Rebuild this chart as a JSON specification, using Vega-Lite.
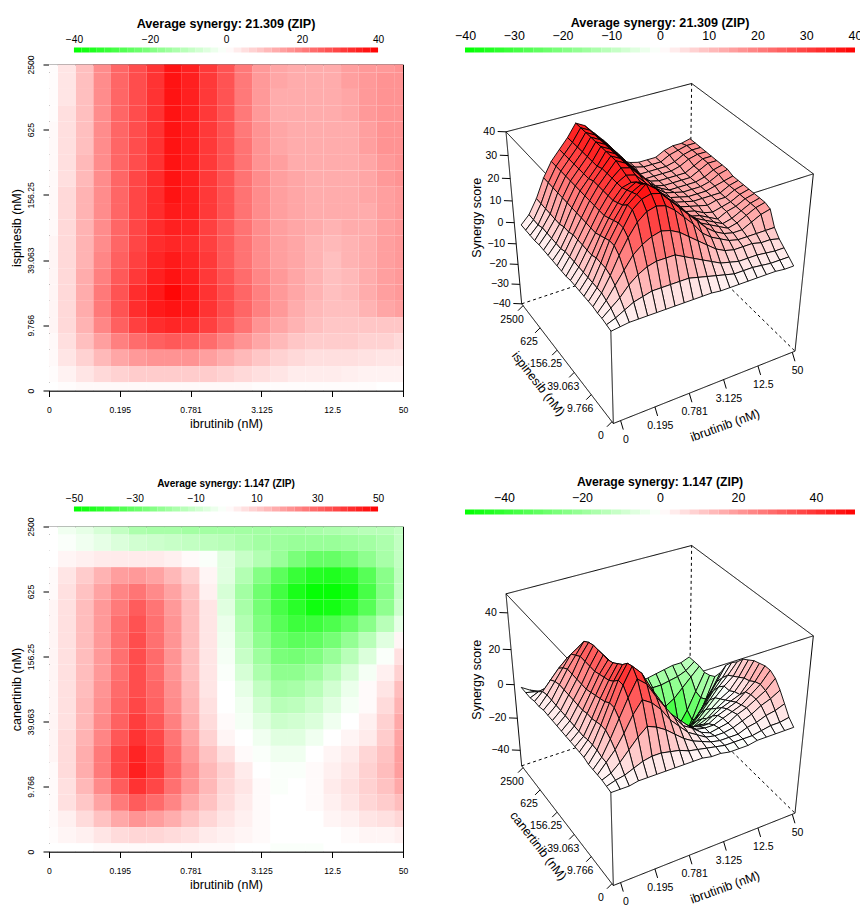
{"$schema":"https://vega.github.io/schema/vega-lite/v6.json","padding":{"left":9,"top":16.5,"right":0,"bottom":0},"background":"white","spacing":45,"config":{"font":"Liberation Sans","text":{"font":"Liberation Sans"},"axis":{"labelFont":"Liberation Sans","titleFont":"Liberation Sans","labelColor":"#000","titleColor":"#000","tickColor":"#000","domainColor":"#000","grid":false},"title":{"font":"Liberation Sans","fontWeight":"bold","color":"#000"}},
"hconcat":[
{"spacing":48,"vconcat":[
{"bounds":"flush","spacing":12,"vconcat":[
{"width":354,"height":5,"view":{"stroke":null},"title":{"text":"Average synergy: 21.309 (ZIP)","fontSize":12.6,"offset":3.5,"anchor":"middle"},"data":{"name":"bar"},"transform":[{"calculate":"datum.a*40","as":"x0"},{"calculate":"(datum.a+0.05)*40","as":"x1"},{"calculate":"datum.a+0.025","as":"c"}],"mark":"rect","encoding":{"x":{"field":"x0","type":"quantitative","scale":{"domain":[-46.56,46.56],"nice":false,"zero":false},"axis":{"orient":"top","values":[-40,-20,0,20,40],"title":null,"ticks":false,"domain":false,"labelFontSize":10.2,"labelPadding":3.5,"labelFlush":false}},"x2":{"field":"x1"},"fill":{"field":"c","type":"quantitative","scale":{"domain":[-1,0,1],"range":["#00ff00","#ffffff","#ff0000"],"interpolate":"rgb"},"legend":null}}},
{"width":354,"height":326,"view":{"stroke":"#000","strokeWidth":1},"data":{"name":"a"},"transform":[{"calculate":"max(datum.i-0.5,0)","as":"x0"},{"calculate":"min(datum.i+0.5,20)","as":"x1"},{"calculate":"max(datum.j-0.5,0)","as":"y0"},{"calculate":"min(datum.j+0.5,20)","as":"y1"},{"calculate":"datum.z/40","as":"c"}],"mark":"rect","encoding":{"x":{"field":"x0","type":"quantitative","scale":{"domain":[0,20],"nice":false},"axis":{"values":[0,4,8,12,16,20],"labelExpr":"['0','0.195','0.781','3.125','12.5','50'][datum.value/4]","title":"ibrutinib (nM)","titleFontSize":12.5,"titleFontWeight":"normal","labelFontSize":8.6,"tickSize":6,"labelPadding":9,"titlePadding":3,"labelFlush":false,"labelOverlap":false}},"x2":{"field":"x1"},"y":{"field":"y0","type":"quantitative","scale":{"domain":[0,20],"nice":false},"axis":{"values":[0,4,8,12,16,20],"labelExpr":"['0','9.766','39.063','156.25','625','2500'][datum.value/4]","title":"ispinesib (nM)","titleFontSize":12.5,"titleFontWeight":"normal","labelFontSize":8.6,"tickSize":6,"labelAngle":-90,"labelAlign":"center","labelBaseline":"bottom","labelPadding":7.5,"titlePadding":3.5,"labelFlush":false,"labelOverlap":false}},"y2":{"field":"y1"},"fill":{"field":"c","type":"quantitative","scale":{"domain":[-1,0,1],"range":["#00ff00","#ffffff","#ff0000"],"interpolate":"rgb"},"legend":null}}}
]},
{"bounds":"flush","spacing":15,"vconcat":[
{"width":354,"height":5,"view":{"stroke":null},"title":{"text":"Average synergy: 1.147 (ZIP)","fontSize":10.1,"offset":3.5,"anchor":"middle"},"data":{"name":"bar"},"transform":[{"calculate":"datum.a*50","as":"x0"},{"calculate":"(datum.a+0.05)*50","as":"x1"},{"calculate":"datum.a+0.025","as":"c"}],"mark":"rect","encoding":{"x":{"field":"x0","type":"quantitative","scale":{"domain":[-58.2,58.2],"nice":false,"zero":false},"axis":{"orient":"top","values":[-50,-30,-10,10,30,50],"title":null,"ticks":false,"domain":false,"labelFontSize":10.2,"labelPadding":3.5,"labelFlush":false}},"x2":{"field":"x1"},"fill":{"field":"c","type":"quantitative","scale":{"domain":[-1,0,1],"range":["#00ff00","#ffffff","#ff0000"],"interpolate":"rgb"},"legend":null}}},
{"width":354,"height":325,"view":{"stroke":"#000","strokeWidth":1},"data":{"name":"b"},"transform":[{"calculate":"max(datum.i-0.5,0)","as":"x0"},{"calculate":"min(datum.i+0.5,20)","as":"x1"},{"calculate":"max(datum.j-0.5,0)","as":"y0"},{"calculate":"min(datum.j+0.5,20)","as":"y1"},{"calculate":"datum.z/50","as":"c"}],"mark":"rect","encoding":{"x":{"field":"x0","type":"quantitative","scale":{"domain":[0,20],"nice":false},"axis":{"values":[0,4,8,12,16,20],"labelExpr":"['0','0.195','0.781','3.125','12.5','50'][datum.value/4]","title":"ibrutinib (nM)","titleFontSize":12.5,"titleFontWeight":"normal","labelFontSize":8.6,"tickSize":6,"labelPadding":9,"titlePadding":3,"labelFlush":false,"labelOverlap":false}},"x2":{"field":"x1"},"y":{"field":"y0","type":"quantitative","scale":{"domain":[0,20],"nice":false},"axis":{"values":[0,4,8,12,16,20],"labelExpr":"['0','9.766','39.063','156.25','625','2500'][datum.value/4]","title":"canertinib (nM)","titleFontSize":12.5,"titleFontWeight":"normal","labelFontSize":8.6,"tickSize":6,"labelAngle":-90,"labelAlign":"center","labelBaseline":"bottom","labelPadding":7.5,"titlePadding":3.5,"labelFlush":false,"labelOverlap":false}},"y2":{"field":"y1"},"fill":{"field":"c","type":"quantitative","scale":{"domain":[-1,0,1],"range":["#00ff00","#ffffff","#ff0000"],"interpolate":"rgb"},"legend":null}}}
]}
]},
{"spacing":26,"vconcat":[
{"bounds":"flush","spacing":17,"vconcat":[
{"width":400,"height":5,"view":{"stroke":null},"title":{"text":"Average synergy: 21.309 (ZIP)","fontSize":12.6,"offset":0,"anchor":"middle"},"data":{"name":"bar"},"transform":[{"calculate":"datum.a*40","as":"x0"},{"calculate":"(datum.a+0.05)*40","as":"x1"},{"calculate":"datum.a+0.025","as":"c"}],"mark":"rect","encoding":{"x":{"field":"x0","type":"quantitative","scale":{"domain":[-41.03,41.03],"nice":false,"zero":false},"axis":{"orient":"top","values":[-40,-30,-20,-10,0,10,20,30,40],"title":null,"ticks":false,"domain":false,"labelFontSize":12.4,"labelPadding":5,"labelFlush":false,"labelOverlap":false}},"x2":{"field":"x1"},"fill":{"field":"c","type":"quantitative","scale":{"domain":[-1,0,1],"range":["#00ff00","#ffffff","#ff0000"],"interpolate":"rgb"},"legend":null}}},
{"width":400,"height":380,"view":{"stroke":null},
"encoding":{"x":{"field":"px","type":"quantitative","scale":{"domain":[0,1200],"nice":false,"zero":false},"axis":null},"y":{"field":"py","type":"quantitative","scale":{"domain":[1140,0],"nice":false,"zero":false},"axis":null}},
"layer":[
{"data":{"name":"box"},"transform":[{"calculate":"datum.t","as":"w"},{"calculate":"(1-datum.w)*((1-datum.u)*(1-datum.v)*460+datum.u*(1-datum.v)*1005+(1-datum.u)*datum.v*185+datum.u*datum.v*688)+datum.w*((1-datum.u)*(1-datum.v)*445+datum.u*(1-datum.v)*1060+(1-datum.u)*datum.v*138+datum.u*datum.v*695)","as":"px"},{"calculate":"(1-datum.w)*((1-datum.u)*(1-datum.v)*1062+datum.u*(1-datum.v)*845+(1-datum.u)*datum.v*703+datum.u*datum.v*535)+datum.w*((1-datum.u)*(1-datum.v)*510+datum.u*(1-datum.v)*313+(1-datum.u)*datum.v*187+datum.u*datum.v*42)","as":"py"}],"mark":{"type":"line","color":"#000","strokeWidth":1},"encoding":{"detail":{"field":"e"},"order":{"field":"k","type":"quantitative"},"strokeDash":{"field":"s","type":"nominal","scale":{"domain":["a","d"],"range":[[1,0],[3,3]]},"legend":null}}},
{"data":{"name":"a"},"transform":[{"calculate":"[0,-1,-1,0]","as":"di"},{"calculate":"[0,0,-1,-1]","as":"dj"},{"calculate":"[0,1,2,3]","as":"k"},{"flatten":["di","dj","k"]},{"calculate":"datum.i+datum.di","as":"ci"},{"calculate":"datum.j+datum.dj","as":"cj"},{"filter":"datum.ci>=0&&datum.cj>=0&&datum.ci<20&&datum.cj<20"},{"calculate":"datum.ci*100+datum.cj","as":"cell"},{"joinaggregate":[{"op":"mean","field":"z","as":"zc"}],"groupby":["cell"]},{"calculate":"datum.zc/40","as":"c"},{"calculate":"0.03+0.955*datum.i/20","as":"u"},{"calculate":"0.06+0.925*datum.j/20","as":"v"},{"calculate":"(datum.z-1.5*(1-datum.z/40)+40)/80","as":"t"},{"calculate":"datum.t*0.893/(1-datum.t+datum.t*0.893)","as":"w"},{"calculate":"(1-datum.w)*((1-datum.u)*(1-datum.v)*460+datum.u*(1-datum.v)*1005+(1-datum.u)*datum.v*185+datum.u*datum.v*688)+datum.w*((1-datum.u)*(1-datum.v)*445+datum.u*(1-datum.v)*1060+(1-datum.u)*datum.v*138+datum.u*datum.v*695)","as":"px"},{"calculate":"(1-datum.w)*((1-datum.u)*(1-datum.v)*1062+datum.u*(1-datum.v)*845+(1-datum.u)*datum.v*703+datum.u*datum.v*535)+datum.w*((1-datum.u)*(1-datum.v)*510+datum.u*(1-datum.v)*313+(1-datum.u)*datum.v*187+datum.u*datum.v*42)","as":"py"}],"mark":{"type":"line","interpolate":"linear-closed","stroke":"#000","strokeWidth":0.9},"encoding":{"detail":{"field":"cell"},"order":{"field":"k","type":"quantitative"},"fill":{"field":"c","type":"quantitative","scale":{"domain":[-1,0,1],"range":["#00ff00","#ffffff","#ff0000"],"interpolate":"rgb"},"legend":null}}},
{"data":{"name":"ticks1"},"transform":[{"calculate":"datum.axis=='x'||datum.axis=='tx'?0.04+0.945*datum.value/5:0","as":"u"},{"calculate":"datum.axis=='y'&&datum.value==0?0.015:datum.axis=='y'||datum.axis=='ty'?0.055+0.93*datum.value/5:(datum.axis=='z'||datum.axis=='tz'?1:0)","as":"v"},{"calculate":"datum.axis=='z'||datum.axis=='tz'?(datum.value+40)/80:0","as":"t"},{"calculate":"datum.t*0.893/(1-datum.t+datum.t*0.893)","as":"w"},{"calculate":"(1-datum.w)*((1-datum.u)*(1-datum.v)*460+datum.u*(1-datum.v)*1005+(1-datum.u)*datum.v*185+datum.u*datum.v*688)+datum.w*((1-datum.u)*(1-datum.v)*445+datum.u*(1-datum.v)*1060+(1-datum.u)*datum.v*138+datum.u*datum.v*695)","as":"px"},{"calculate":"(1-datum.w)*((1-datum.u)*(1-datum.v)*1062+datum.u*(1-datum.v)*845+(1-datum.u)*datum.v*703+datum.u*datum.v*535)+datum.w*((1-datum.u)*(1-datum.v)*510+datum.u*(1-datum.v)*313+(1-datum.u)*datum.v*187+datum.u*datum.v*42)","as":"py"},{"calculate":"datum.px+{x:8,y:-15,z:-25}[datum.axis]","as":"px2"},{"calculate":"datum.py+{x:27,y:15,z:-1}[datum.axis]","as":"py2"},{"calculate":"datum.px+{x:16,y:-33,z:-33,tx:56,ty:-82,tz:-111}[datum.axis]","as":"lx"},{"calculate":"datum.py+{x:57,y:43,z:0,tx:117,ty:68,tz:-15}[datum.axis]","as":"ly"}],
"layer":[
{"transform":[{"filter":"length(datum.axis)==1"}],"mark":{"type":"rule","color":"#000","strokeWidth":1},"encoding":{"x2":{"field":"px2"},"y2":{"field":"py2"}}},
{"transform":[{"filter":"datum.axis=='x'||datum.axis=='y'"}],"mark":{"type":"text","fontSize":10.5,"align":"center","baseline":"middle","color":"#000"},"encoding":{"x":{"field":"lx","type":"quantitative","axis":null},"y":{"field":"ly","type":"quantitative","axis":null},"text":{"field":"label"}}},
{"transform":[{"filter":"datum.axis=='z'"}],"mark":{"type":"text","fontSize":10.5,"align":"right","baseline":"middle","color":"#000"},"encoding":{"x":{"field":"lx","type":"quantitative","axis":null},"y":{"field":"ly","type":"quantitative","axis":null},"text":{"field":"label"}}},
{"transform":[{"filter":"datum.axis=='tx'"}],"mark":{"type":"text","fontSize":12.5,"align":"center","baseline":"middle","angle":-20,"color":"#000"},"encoding":{"x":{"field":"lx","type":"quantitative","axis":null},"y":{"field":"ly","type":"quantitative","axis":null},"text":{"field":"label"}}},
{"transform":[{"filter":"datum.axis=='ty'"}],"mark":{"type":"text","fontSize":12.5,"align":"center","baseline":"middle","angle":52,"color":"#000"},"encoding":{"x":{"field":"lx","type":"quantitative","axis":null},"y":{"field":"ly","type":"quantitative","axis":null},"text":{"field":"label"}}},
{"transform":[{"filter":"datum.axis=='tz'"}],"mark":{"type":"text","fontSize":12.5,"align":"center","baseline":"middle","angle":-90,"color":"#000"},"encoding":{"x":{"field":"lx","type":"quantitative","axis":null},"y":{"field":"ly","type":"quantitative","axis":null},"text":{"field":"label"}}}
]}
]}
]},
{"bounds":"flush","spacing":17,"vconcat":[
{"width":400,"height":5,"view":{"stroke":null},"title":{"text":"Average synergy: 1.147 (ZIP)","fontSize":12.2,"offset":3,"anchor":"middle"},"data":{"name":"bar"},"transform":[{"calculate":"datum.a*50","as":"x0"},{"calculate":"(datum.a+0.05)*50","as":"x1"},{"calculate":"datum.a+0.025","as":"c"}],"mark":"rect","encoding":{"x":{"field":"x0","type":"quantitative","scale":{"domain":[-51.28,51.28],"nice":false,"zero":false},"axis":{"orient":"top","values":[-40,-20,0,20,40],"title":null,"ticks":false,"domain":false,"labelFontSize":12.4,"labelPadding":5,"labelFlush":false,"labelOverlap":false}},"x2":{"field":"x1"},"fill":{"field":"c","type":"quantitative","scale":{"domain":[-1,0,1],"range":["#00ff00","#ffffff","#ff0000"],"interpolate":"rgb"},"legend":null}}},
{"width":400,"height":374,"view":{"stroke":null},
"encoding":{"x":{"field":"px","type":"quantitative","scale":{"domain":[0,1200],"nice":false,"zero":false},"axis":null},"y":{"field":"py","type":"quantitative","scale":{"domain":[1122,0],"nice":false,"zero":false},"axis":null}},
"layer":[
{"data":{"name":"box"},"transform":[{"calculate":"datum.t","as":"w"},{"calculate":"(1-datum.w)*((1-datum.u)*(1-datum.v)*460+datum.u*(1-datum.v)*1005+(1-datum.u)*datum.v*185+datum.u*datum.v*688)+datum.w*((1-datum.u)*(1-datum.v)*445+datum.u*(1-datum.v)*1060+(1-datum.u)*datum.v*138+datum.u*datum.v*695)","as":"px"},{"calculate":"(1-datum.w)*((1-datum.u)*(1-datum.v)*1062+datum.u*(1-datum.v)*845+(1-datum.u)*datum.v*703+datum.u*datum.v*535)+datum.w*((1-datum.u)*(1-datum.v)*510+datum.u*(1-datum.v)*313+(1-datum.u)*datum.v*187+datum.u*datum.v*42)","as":"py"}],"mark":{"type":"line","color":"#000","strokeWidth":1},"encoding":{"detail":{"field":"e"},"order":{"field":"k","type":"quantitative"},"strokeDash":{"field":"s","type":"nominal","scale":{"domain":["a","d"],"range":[[1,0],[3,3]]},"legend":null}}},
{"data":{"name":"b"},"transform":[{"calculate":"[0,-1,-1,0]","as":"di"},{"calculate":"[0,0,-1,-1]","as":"dj"},{"calculate":"[0,1,2,3]","as":"k"},{"flatten":["di","dj","k"]},{"calculate":"datum.i+datum.di","as":"ci"},{"calculate":"datum.j+datum.dj","as":"cj"},{"filter":"datum.ci>=0&&datum.cj>=0&&datum.ci<20&&datum.cj<20"},{"calculate":"datum.ci*100+datum.cj","as":"cell"},{"joinaggregate":[{"op":"mean","field":"z","as":"zc"}],"groupby":["cell"]},{"calculate":"datum.zc/50","as":"c"},{"calculate":"0.03+0.955*datum.i/20","as":"u"},{"calculate":"0.06+0.925*datum.j/20","as":"v"},{"calculate":"(datum.z-1.5*(1-datum.z/50)+50)/100","as":"t"},{"calculate":"datum.t*0.893/(1-datum.t+datum.t*0.893)","as":"w"},{"calculate":"(1-datum.w)*((1-datum.u)*(1-datum.v)*460+datum.u*(1-datum.v)*1005+(1-datum.u)*datum.v*185+datum.u*datum.v*688)+datum.w*((1-datum.u)*(1-datum.v)*445+datum.u*(1-datum.v)*1060+(1-datum.u)*datum.v*138+datum.u*datum.v*695)","as":"px"},{"calculate":"(1-datum.w)*((1-datum.u)*(1-datum.v)*1062+datum.u*(1-datum.v)*845+(1-datum.u)*datum.v*703+datum.u*datum.v*535)+datum.w*((1-datum.u)*(1-datum.v)*510+datum.u*(1-datum.v)*313+(1-datum.u)*datum.v*187+datum.u*datum.v*42)","as":"py"}],"mark":{"type":"line","interpolate":"linear-closed","stroke":"#000","strokeWidth":0.9},"encoding":{"detail":{"field":"cell"},"order":{"field":"k","type":"quantitative"},"fill":{"field":"c","type":"quantitative","scale":{"domain":[-1,0,1],"range":["#00ff00","#ffffff","#ff0000"],"interpolate":"rgb"},"legend":null}}},
{"data":{"name":"ticks2"},"transform":[{"calculate":"datum.axis=='x'||datum.axis=='tx'?0.04+0.945*datum.value/5:0","as":"u"},{"calculate":"datum.axis=='y'&&datum.value==0?0.015:datum.axis=='y'||datum.axis=='ty'?0.055+0.93*datum.value/5:(datum.axis=='z'||datum.axis=='tz'?1:0)","as":"v"},{"calculate":"datum.axis=='z'||datum.axis=='tz'?(datum.value+50)/100:0","as":"t"},{"calculate":"datum.t*0.893/(1-datum.t+datum.t*0.893)","as":"w"},{"calculate":"(1-datum.w)*((1-datum.u)*(1-datum.v)*460+datum.u*(1-datum.v)*1005+(1-datum.u)*datum.v*185+datum.u*datum.v*688)+datum.w*((1-datum.u)*(1-datum.v)*445+datum.u*(1-datum.v)*1060+(1-datum.u)*datum.v*138+datum.u*datum.v*695)","as":"px"},{"calculate":"(1-datum.w)*((1-datum.u)*(1-datum.v)*1062+datum.u*(1-datum.v)*845+(1-datum.u)*datum.v*703+datum.u*datum.v*535)+datum.w*((1-datum.u)*(1-datum.v)*510+datum.u*(1-datum.v)*313+(1-datum.u)*datum.v*187+datum.u*datum.v*42)","as":"py"},{"calculate":"datum.px+{x:8,y:-15,z:-25}[datum.axis]","as":"px2"},{"calculate":"datum.py+{x:27,y:15,z:-1}[datum.axis]","as":"py2"},{"calculate":"datum.px+{x:16,y:-33,z:-33,tx:56,ty:-82,tz:-111}[datum.axis]","as":"lx"},{"calculate":"datum.py+{x:57,y:43,z:0,tx:117,ty:68,tz:-15}[datum.axis]","as":"ly"}],
"layer":[
{"transform":[{"filter":"length(datum.axis)==1"}],"mark":{"type":"rule","color":"#000","strokeWidth":1},"encoding":{"x2":{"field":"px2"},"y2":{"field":"py2"}}},
{"transform":[{"filter":"datum.axis=='x'||datum.axis=='y'"}],"mark":{"type":"text","fontSize":10.5,"align":"center","baseline":"middle","color":"#000"},"encoding":{"x":{"field":"lx","type":"quantitative","axis":null},"y":{"field":"ly","type":"quantitative","axis":null},"text":{"field":"label"}}},
{"transform":[{"filter":"datum.axis=='z'"}],"mark":{"type":"text","fontSize":10.5,"align":"right","baseline":"middle","color":"#000"},"encoding":{"x":{"field":"lx","type":"quantitative","axis":null},"y":{"field":"ly","type":"quantitative","axis":null},"text":{"field":"label"}}},
{"transform":[{"filter":"datum.axis=='tx'"}],"mark":{"type":"text","fontSize":12.5,"align":"center","baseline":"middle","angle":-20,"color":"#000"},"encoding":{"x":{"field":"lx","type":"quantitative","axis":null},"y":{"field":"ly","type":"quantitative","axis":null},"text":{"field":"label"}}},
{"transform":[{"filter":"datum.axis=='ty'"}],"mark":{"type":"text","fontSize":12.5,"align":"center","baseline":"middle","angle":52,"color":"#000"},"encoding":{"x":{"field":"lx","type":"quantitative","axis":null},"y":{"field":"ly","type":"quantitative","axis":null},"text":{"field":"label"}}},
{"transform":[{"filter":"datum.axis=='tz'"}],"mark":{"type":"text","fontSize":12.5,"align":"center","baseline":"middle","angle":-90,"color":"#000"},"encoding":{"x":{"field":"lx","type":"quantitative","axis":null},"y":{"field":"ly","type":"quantitative","axis":null},"text":{"field":"label"}}}
]}
]}
]}
]}
],
"datasets":{
"bar":[{"a":-1},{"a":-0.95},{"a":-0.9},{"a":-0.85},{"a":-0.8},{"a":-0.75},{"a":-0.7},{"a":-0.65},{"a":-0.6},{"a":-0.55},{"a":-0.5},{"a":-0.45},{"a":-0.4},{"a":-0.35},{"a":-0.3},{"a":-0.25},{"a":-0.2},{"a":-0.15},{"a":-0.1},{"a":-0.05},{"a":0},{"a":0.05},{"a":0.1},{"a":0.15},{"a":0.2},{"a":0.25},{"a":0.3},{"a":0.35},{"a":0.4},{"a":0.45},{"a":0.5},{"a":0.55},{"a":0.6},{"a":0.65},{"a":0.7},{"a":0.75},{"a":0.8},{"a":0.85},{"a":0.9},{"a":0.95}],
"box":[{"e":1,"s":"a","k":0,"u":0,"v":1,"t":1},{"e":1,"s":"a","k":1,"u":1,"v":1,"t":1},{"e":2,"s":"a","k":0,"u":1,"v":1,"t":1},{"e":2,"s":"a","k":1,"u":1,"v":0,"t":1},{"e":3,"s":"a","k":0,"u":1,"v":0,"t":1},{"e":3,"s":"a","k":1,"u":0,"v":0,"t":1},{"e":4,"s":"a","k":0,"u":0,"v":0,"t":1},{"e":4,"s":"a","k":1,"u":0,"v":1,"t":1},{"e":5,"s":"a","k":0,"u":0,"v":1,"t":0},{"e":5,"s":"a","k":1,"u":0,"v":1,"t":1},{"e":6,"s":"a","k":0,"u":1,"v":0,"t":0},{"e":6,"s":"a","k":1,"u":1,"v":0,"t":1},{"e":7,"s":"a","k":0,"u":0,"v":0,"t":0},{"e":7,"s":"a","k":1,"u":0,"v":0,"t":1},{"e":8,"s":"a","k":0,"u":0,"v":0,"t":0},{"e":8,"s":"a","k":1,"u":1,"v":0,"t":0},{"e":9,"s":"a","k":0,"u":0,"v":0,"t":0},{"e":9,"s":"a","k":1,"u":0,"v":1,"t":0},{"e":10,"s":"d","k":0,"u":0,"v":1,"t":0},{"e":10,"s":"d","k":1,"u":1,"v":1,"t":0},{"e":11,"s":"d","k":0,"u":1,"v":1,"t":0},{"e":11,"s":"d","k":1,"u":1,"v":0,"t":0},{"e":12,"s":"d","k":0,"u":1,"v":1,"t":0},{"e":12,"s":"d","k":1,"u":1,"v":1,"t":1}],
"ticks1":[{"axis":"x","value":0,"label":"0"},{"axis":"x","value":1,"label":"0.195"},{"axis":"x","value":2,"label":"0.781"},{"axis":"x","value":3,"label":"3.125"},{"axis":"x","value":4,"label":"12.5"},{"axis":"x","value":5,"label":"50"},{"axis":"y","value":0,"label":"0"},{"axis":"y","value":1,"label":"9.766"},{"axis":"y","value":2,"label":"39.063"},{"axis":"y","value":3,"label":"156.25"},{"axis":"y","value":4,"label":"625"},{"axis":"y","value":5,"label":"2500"},{"axis":"z","value":-40,"label":"−40"},{"axis":"z","value":-30,"label":"−30"},{"axis":"z","value":-20,"label":"−20"},{"axis":"z","value":-10,"label":"−10"},{"axis":"z","value":0,"label":"0"},{"axis":"z","value":10,"label":"10"},{"axis":"z","value":20,"label":"20"},{"axis":"z","value":30,"label":"30"},{"axis":"z","value":40,"label":"40"},{"axis":"tx","value":2.5,"label":"ibrutinib (nM)"},{"axis":"ty","value":2.5,"label":"ispinesib (nM)"},{"axis":"tz","value":0,"label":"Synergy score"}],
"ticks2":[{"axis":"x","value":0,"label":"0"},{"axis":"x","value":1,"label":"0.195"},{"axis":"x","value":2,"label":"0.781"},{"axis":"x","value":3,"label":"3.125"},{"axis":"x","value":4,"label":"12.5"},{"axis":"x","value":5,"label":"50"},{"axis":"y","value":0,"label":"0"},{"axis":"y","value":1,"label":"9.766"},{"axis":"y","value":2,"label":"39.063"},{"axis":"y","value":3,"label":"156.25"},{"axis":"y","value":4,"label":"625"},{"axis":"y","value":5,"label":"2500"},{"axis":"z","value":-40,"label":"−40"},{"axis":"z","value":-20,"label":"−20"},{"axis":"z","value":0,"label":"0"},{"axis":"z","value":20,"label":"20"},{"axis":"z","value":40,"label":"40"},{"axis":"tx","value":2.5,"label":"ibrutinib (nM)"},{"axis":"ty","value":2.5,"label":"canertinib (nM)"},{"axis":"tz","value":0,"label":"Synergy score"}],
"a":[
{"i":20,"j":20,"z":17},{"i":19,"j":20,"z":16},{"i":18,"j":20,"z":16},{"i":17,"j":20,"z":15},{"i":16,"j":20,"z":13},{"i":15,"j":20,"z":13},{"i":14,"j":20,"z":13},{"i":13,"j":20,"z":14},{"i":12,"j":20,"z":16},{"i":11,"j":20,"z":21},{"i":10,"j":20,"z":27},{"i":9,"j":20,"z":31},{"i":8,"j":20,"z":35},{"i":7,"j":20,"z":37},{"i":6,"j":20,"z":32},{"i":5,"j":20,"z":28},{"i":4,"j":20,"z":24},{"i":3,"j":20,"z":18},{"i":2,"j":20,"z":10},{"i":1,"j":20,"z":4},{"i":0,"j":20,"z":0.5},
{"i":20,"j":19,"z":17},{"i":19,"j":19,"z":17},{"i":18,"j":19,"z":16},{"i":17,"j":19,"z":15},{"i":16,"j":19,"z":13},{"i":15,"j":19,"z":13},{"i":14,"j":19,"z":13},{"i":13,"j":19,"z":14},{"i":12,"j":19,"z":16},{"i":11,"j":19,"z":21},{"i":10,"j":19,"z":27},{"i":9,"j":19,"z":31},{"i":8,"j":19,"z":35},{"i":7,"j":19,"z":37},{"i":6,"j":19,"z":32},{"i":5,"j":19,"z":28},{"i":4,"j":19,"z":24},{"i":3,"j":19,"z":18},{"i":2,"j":19,"z":10},{"i":1,"j":19,"z":4},{"i":0,"j":19,"z":0.5},
{"i":20,"j":18,"z":17},{"i":19,"j":18,"z":17},{"i":18,"j":18,"z":16},{"i":17,"j":18,"z":14},{"i":16,"j":18,"z":13},{"i":15,"j":18,"z":13},{"i":14,"j":18,"z":13},{"i":13,"j":18,"z":13},{"i":12,"j":18,"z":16},{"i":11,"j":18,"z":21},{"i":10,"j":18,"z":27},{"i":9,"j":18,"z":31},{"i":8,"j":18,"z":35},{"i":7,"j":18,"z":37},{"i":6,"j":18,"z":32},{"i":5,"j":18,"z":28},{"i":4,"j":18,"z":24},{"i":3,"j":18,"z":18},{"i":2,"j":18,"z":10},{"i":1,"j":18,"z":4},{"i":0,"j":18,"z":0.5},
{"i":20,"j":17,"z":17},{"i":19,"j":17,"z":17},{"i":18,"j":17,"z":16},{"i":17,"j":17,"z":14},{"i":16,"j":17,"z":13},{"i":15,"j":17,"z":13},{"i":14,"j":17,"z":13},{"i":13,"j":17,"z":13},{"i":12,"j":17,"z":16},{"i":11,"j":17,"z":21},{"i":10,"j":17,"z":27},{"i":9,"j":17,"z":31},{"i":8,"j":17,"z":35},{"i":7,"j":17,"z":37},{"i":6,"j":17,"z":32},{"i":5,"j":17,"z":28},{"i":4,"j":17,"z":24},{"i":3,"j":17,"z":18},{"i":2,"j":17,"z":10},{"i":1,"j":17,"z":5},{"i":0,"j":17,"z":0.5},
{"i":20,"j":16,"z":17},{"i":19,"j":16,"z":17},{"i":18,"j":16,"z":15},{"i":17,"j":16,"z":13},{"i":16,"j":16,"z":13},{"i":15,"j":16,"z":13},{"i":14,"j":16,"z":13},{"i":13,"j":16,"z":14},{"i":12,"j":16,"z":17},{"i":11,"j":16,"z":21},{"i":10,"j":16,"z":27},{"i":9,"j":16,"z":31},{"i":8,"j":16,"z":35},{"i":7,"j":16,"z":37},{"i":6,"j":16,"z":32},{"i":5,"j":16,"z":28},{"i":4,"j":16,"z":24},{"i":3,"j":16,"z":18},{"i":2,"j":16,"z":10},{"i":1,"j":16,"z":5},{"i":0,"j":16,"z":1},
{"i":20,"j":15,"z":17},{"i":19,"j":15,"z":17},{"i":18,"j":15,"z":15},{"i":17,"j":15,"z":13},{"i":16,"j":15,"z":13},{"i":15,"j":15,"z":13},{"i":14,"j":15,"z":13},{"i":13,"j":15,"z":14},{"i":12,"j":15,"z":17},{"i":11,"j":15,"z":22},{"i":10,"j":15,"z":27},{"i":9,"j":15,"z":31},{"i":8,"j":15,"z":35},{"i":7,"j":15,"z":37},{"i":6,"j":15,"z":32},{"i":5,"j":15,"z":28},{"i":4,"j":15,"z":24},{"i":3,"j":15,"z":18},{"i":2,"j":15,"z":10},{"i":1,"j":15,"z":5},{"i":0,"j":15,"z":1},
{"i":20,"j":14,"z":17},{"i":19,"j":14,"z":16},{"i":18,"j":14,"z":14},{"i":17,"j":14,"z":13},{"i":16,"j":14,"z":13},{"i":15,"j":14,"z":13},{"i":14,"j":14,"z":13},{"i":13,"j":14,"z":15},{"i":12,"j":14,"z":17},{"i":11,"j":14,"z":22},{"i":10,"j":14,"z":27},{"i":9,"j":14,"z":31},{"i":8,"j":14,"z":35},{"i":7,"j":14,"z":37},{"i":6,"j":14,"z":32},{"i":5,"j":14,"z":28},{"i":4,"j":14,"z":24},{"i":3,"j":14,"z":18},{"i":2,"j":14,"z":11},{"i":1,"j":14,"z":5},{"i":0,"j":14,"z":1},
{"i":20,"j":13,"z":17},{"i":19,"j":13,"z":16},{"i":18,"j":13,"z":14},{"i":17,"j":13,"z":13},{"i":16,"j":13,"z":13},{"i":15,"j":13,"z":13},{"i":14,"j":13,"z":14},{"i":13,"j":13,"z":15},{"i":12,"j":13,"z":18},{"i":11,"j":13,"z":22},{"i":10,"j":13,"z":27},{"i":9,"j":13,"z":31},{"i":8,"j":13,"z":35},{"i":7,"j":13,"z":37},{"i":6,"j":13,"z":33},{"i":5,"j":13,"z":29},{"i":4,"j":13,"z":24},{"i":3,"j":13,"z":18},{"i":2,"j":13,"z":11},{"i":1,"j":13,"z":5},{"i":0,"j":13,"z":1},
{"i":20,"j":12,"z":16},{"i":19,"j":12,"z":15},{"i":18,"j":12,"z":14},{"i":17,"j":12,"z":13},{"i":16,"j":12,"z":13},{"i":15,"j":12,"z":13},{"i":14,"j":12,"z":14},{"i":13,"j":12,"z":15},{"i":12,"j":12,"z":18},{"i":11,"j":12,"z":22},{"i":10,"j":12,"z":27},{"i":9,"j":12,"z":31},{"i":8,"j":12,"z":35},{"i":7,"j":12,"z":37},{"i":6,"j":12,"z":33},{"i":5,"j":12,"z":29},{"i":4,"j":12,"z":24},{"i":3,"j":12,"z":18},{"i":2,"j":12,"z":12},{"i":1,"j":12,"z":6},{"i":0,"j":12,"z":1},
{"i":20,"j":11,"z":16},{"i":19,"j":11,"z":15},{"i":18,"j":11,"z":13},{"i":17,"j":11,"z":13},{"i":16,"j":11,"z":13},{"i":15,"j":11,"z":13},{"i":14,"j":11,"z":14},{"i":13,"j":11,"z":15},{"i":12,"j":11,"z":18},{"i":11,"j":11,"z":22},{"i":10,"j":11,"z":27},{"i":9,"j":11,"z":31},{"i":8,"j":11,"z":35},{"i":7,"j":11,"z":36},{"i":6,"j":11,"z":33},{"i":5,"j":11,"z":29},{"i":4,"j":11,"z":24},{"i":3,"j":11,"z":18},{"i":2,"j":11,"z":12},{"i":1,"j":11,"z":6},{"i":0,"j":11,"z":1},
{"i":20,"j":10,"z":16},{"i":19,"j":10,"z":15},{"i":18,"j":10,"z":13},{"i":17,"j":10,"z":13},{"i":16,"j":10,"z":12},{"i":15,"j":10,"z":13},{"i":14,"j":10,"z":14},{"i":13,"j":10,"z":15},{"i":12,"j":10,"z":18},{"i":11,"j":10,"z":22},{"i":10,"j":10,"z":26},{"i":9,"j":10,"z":30},{"i":8,"j":10,"z":34},{"i":7,"j":10,"z":35},{"i":6,"j":10,"z":33},{"i":5,"j":10,"z":29},{"i":4,"j":10,"z":24},{"i":3,"j":10,"z":18},{"i":2,"j":10,"z":12},{"i":1,"j":10,"z":6},{"i":0,"j":10,"z":1},
{"i":20,"j":9,"z":16},{"i":19,"j":9,"z":15},{"i":18,"j":9,"z":13},{"i":17,"j":9,"z":12},{"i":16,"j":9,"z":11},{"i":15,"j":9,"z":12},{"i":14,"j":9,"z":14},{"i":13,"j":9,"z":15},{"i":12,"j":9,"z":18},{"i":11,"j":9,"z":22},{"i":10,"j":9,"z":26},{"i":9,"j":9,"z":30},{"i":8,"j":9,"z":33},{"i":7,"j":9,"z":34},{"i":6,"j":9,"z":33},{"i":5,"j":9,"z":29},{"i":4,"j":9,"z":24},{"i":3,"j":9,"z":18},{"i":2,"j":9,"z":12},{"i":1,"j":9,"z":6},{"i":0,"j":9,"z":1.5},
{"i":20,"j":8,"z":16},{"i":19,"j":8,"z":15},{"i":18,"j":8,"z":13},{"i":17,"j":8,"z":12},{"i":16,"j":8,"z":10},{"i":15,"j":8,"z":12},{"i":14,"j":8,"z":14},{"i":13,"j":8,"z":15},{"i":12,"j":8,"z":18},{"i":11,"j":8,"z":22},{"i":10,"j":8,"z":26},{"i":9,"j":8,"z":31},{"i":8,"j":8,"z":34},{"i":7,"j":8,"z":36},{"i":6,"j":8,"z":34},{"i":5,"j":8,"z":30},{"i":4,"j":8,"z":25},{"i":3,"j":8,"z":19},{"i":2,"j":8,"z":12},{"i":1,"j":8,"z":6},{"i":0,"j":8,"z":1.5},
{"i":20,"j":7,"z":16},{"i":19,"j":7,"z":15},{"i":18,"j":7,"z":13},{"i":17,"j":7,"z":11},{"i":16,"j":7,"z":10},{"i":15,"j":7,"z":12},{"i":14,"j":7,"z":14},{"i":13,"j":7,"z":16},{"i":12,"j":7,"z":19},{"i":11,"j":7,"z":23},{"i":10,"j":7,"z":27},{"i":9,"j":7,"z":31},{"i":8,"j":7,"z":35},{"i":7,"j":7,"z":37},{"i":6,"j":7,"z":35},{"i":5,"j":7,"z":31},{"i":4,"j":7,"z":26},{"i":3,"j":7,"z":20},{"i":2,"j":7,"z":13},{"i":1,"j":7,"z":6},{"i":0,"j":7,"z":1.5},
{"i":20,"j":6,"z":16},{"i":19,"j":6,"z":15},{"i":18,"j":6,"z":13},{"i":17,"j":6,"z":11},{"i":16,"j":6,"z":10},{"i":15,"j":6,"z":12},{"i":14,"j":6,"z":14},{"i":13,"j":6,"z":16},{"i":12,"j":6,"z":20},{"i":11,"j":6,"z":24},{"i":10,"j":6,"z":28},{"i":9,"j":6,"z":32},{"i":8,"j":6,"z":36},{"i":7,"j":6,"z":39},{"i":6,"j":6,"z":36},{"i":5,"j":6,"z":33},{"i":4,"j":6,"z":27},{"i":3,"j":6,"z":21},{"i":2,"j":6,"z":13},{"i":1,"j":6,"z":6},{"i":0,"j":6,"z":1.5},
{"i":20,"j":5,"z":15},{"i":19,"j":5,"z":14},{"i":18,"j":5,"z":12},{"i":17,"j":5,"z":10},{"i":16,"j":5,"z":10},{"i":15,"j":5,"z":11},{"i":14,"j":5,"z":13},{"i":13,"j":5,"z":16},{"i":12,"j":5,"z":20},{"i":11,"j":5,"z":24},{"i":10,"j":5,"z":28},{"i":9,"j":5,"z":32},{"i":8,"j":5,"z":36},{"i":7,"j":5,"z":37},{"i":6,"j":5,"z":36},{"i":5,"j":5,"z":33},{"i":4,"j":5,"z":27},{"i":3,"j":5,"z":21},{"i":2,"j":5,"z":13},{"i":1,"j":5,"z":6},{"i":0,"j":5,"z":1.5},
{"i":20,"j":4,"z":9},{"i":19,"j":4,"z":9},{"i":18,"j":4,"z":9},{"i":17,"j":4,"z":9},{"i":16,"j":4,"z":9},{"i":15,"j":4,"z":10},{"i":14,"j":4,"z":12},{"i":13,"j":4,"z":14},{"i":12,"j":4,"z":17},{"i":11,"j":4,"z":22},{"i":10,"j":4,"z":26},{"i":9,"j":4,"z":30},{"i":8,"j":4,"z":33},{"i":7,"j":4,"z":34},{"i":6,"j":4,"z":33},{"i":5,"j":4,"z":30},{"i":4,"j":4,"z":25},{"i":3,"j":4,"z":19},{"i":2,"j":4,"z":12},{"i":1,"j":4,"z":6},{"i":0,"j":4,"z":1.5},
{"i":20,"j":3,"z":6},{"i":19,"j":3,"z":7},{"i":18,"j":3,"z":7},{"i":17,"j":3,"z":8},{"i":16,"j":3,"z":8},{"i":15,"j":3,"z":8},{"i":14,"j":3,"z":9},{"i":13,"j":3,"z":11},{"i":12,"j":3,"z":14},{"i":11,"j":3,"z":17},{"i":10,"j":3,"z":20},{"i":9,"j":3,"z":23},{"i":8,"j":3,"z":25},{"i":7,"j":3,"z":26},{"i":6,"j":3,"z":25},{"i":5,"j":3,"z":23},{"i":4,"j":3,"z":20},{"i":3,"j":3,"z":15},{"i":2,"j":3,"z":10},{"i":1,"j":3,"z":5},{"i":0,"j":3,"z":1},
{"i":20,"j":2,"z":4},{"i":19,"j":2,"z":4},{"i":18,"j":2,"z":4.5},{"i":17,"j":2,"z":5},{"i":16,"j":2,"z":5},{"i":15,"j":2,"z":5},{"i":14,"j":2,"z":6},{"i":13,"j":2,"z":7},{"i":12,"j":2,"z":9},{"i":11,"j":2,"z":11},{"i":10,"j":2,"z":13},{"i":9,"j":2,"z":15},{"i":8,"j":2,"z":17},{"i":7,"j":2,"z":17},{"i":6,"j":2,"z":17},{"i":5,"j":2,"z":16},{"i":4,"j":2,"z":14},{"i":3,"j":2,"z":11},{"i":2,"j":2,"z":7},{"i":1,"j":2,"z":4},{"i":0,"j":2,"z":1},
{"i":20,"j":1,"z":2},{"i":19,"j":1,"z":2},{"i":18,"j":1,"z":2},{"i":17,"j":1,"z":2.5},{"i":16,"j":1,"z":3},{"i":15,"j":1,"z":3},{"i":14,"j":1,"z":3},{"i":13,"j":1,"z":4},{"i":12,"j":1,"z":5},{"i":11,"j":1,"z":6},{"i":10,"j":1,"z":7},{"i":9,"j":1,"z":8},{"i":8,"j":1,"z":8},{"i":7,"j":1,"z":8},{"i":6,"j":1,"z":8},{"i":5,"j":1,"z":8},{"i":4,"j":1,"z":7},{"i":3,"j":1,"z":6},{"i":2,"j":1,"z":4},{"i":1,"j":1,"z":2},{"i":0,"j":1,"z":0.5},
{"i":20,"j":0,"z":0},{"i":19,"j":0,"z":0},{"i":18,"j":0,"z":0.5},{"i":17,"j":0,"z":0.5},{"i":16,"j":0,"z":0.5},{"i":15,"j":0,"z":0.5},{"i":14,"j":0,"z":0.5},{"i":13,"j":0,"z":0.5},{"i":12,"j":0,"z":0.5},{"i":11,"j":0,"z":1},{"i":10,"j":0,"z":1},{"i":9,"j":0,"z":1},{"i":8,"j":0,"z":1},{"i":7,"j":0,"z":1},{"i":6,"j":0,"z":1},{"i":5,"j":0,"z":1},{"i":4,"j":0,"z":1},{"i":3,"j":0,"z":1},{"i":2,"j":0,"z":1},{"i":1,"j":0,"z":0.5},{"i":0,"j":0,"z":0}
],
"b":[
{"i":20,"j":20,"z":-12},{"i":19,"j":20,"z":-14},{"i":18,"j":20,"z":-14},{"i":17,"j":20,"z":-15},{"i":16,"j":20,"z":-16},{"i":15,"j":20,"z":-17},{"i":14,"j":20,"z":-18},{"i":13,"j":20,"z":-18},{"i":12,"j":20,"z":-18},{"i":11,"j":20,"z":-18},{"i":10,"j":20,"z":-18},{"i":9,"j":20,"z":-18},{"i":8,"j":20,"z":-18},{"i":7,"j":20,"z":-17},{"i":6,"j":20,"z":-17},{"i":5,"j":20,"z":-16},{"i":4,"j":20,"z":-12},{"i":3,"j":20,"z":-8},{"i":2,"j":20,"z":-5},{"i":1,"j":20,"z":-3},{"i":0,"j":20,"z":0},
{"i":20,"j":19,"z":-12},{"i":19,"j":19,"z":-16},{"i":18,"j":19,"z":-18},{"i":17,"j":19,"z":-19},{"i":16,"j":19,"z":-20},{"i":15,"j":19,"z":-20},{"i":14,"j":19,"z":-20},{"i":13,"j":19,"z":-19},{"i":12,"j":19,"z":-18},{"i":11,"j":19,"z":-16},{"i":10,"j":19,"z":-14},{"i":9,"j":19,"z":-13},{"i":8,"j":19,"z":-12},{"i":7,"j":19,"z":-11},{"i":6,"j":19,"z":-10},{"i":5,"j":19,"z":-9},{"i":4,"j":19,"z":-7},{"i":3,"j":19,"z":-5},{"i":2,"j":19,"z":-3},{"i":1,"j":19,"z":-1},{"i":0,"j":19,"z":0},
{"i":20,"j":18,"z":-12},{"i":19,"j":18,"z":-17},{"i":18,"j":18,"z":-22},{"i":17,"j":18,"z":-27},{"i":16,"j":18,"z":-30},{"i":15,"j":18,"z":-30},{"i":14,"j":18,"z":-26},{"i":13,"j":18,"z":-20},{"i":12,"j":18,"z":-15},{"i":11,"j":18,"z":-11},{"i":10,"j":18,"z":-6},{"i":9,"j":18,"z":-1},{"i":8,"j":18,"z":1},{"i":7,"j":18,"z":3},{"i":6,"j":18,"z":4},{"i":5,"j":18,"z":4},{"i":4,"j":18,"z":4},{"i":3,"j":18,"z":4},{"i":2,"j":18,"z":3},{"i":1,"j":18,"z":2},{"i":0,"j":18,"z":0},
{"i":20,"j":17,"z":-13},{"i":19,"j":17,"z":-23},{"i":18,"j":17,"z":-33},{"i":17,"j":17,"z":-41},{"i":16,"j":17,"z":-44},{"i":15,"j":17,"z":-43},{"i":14,"j":17,"z":-39},{"i":13,"j":17,"z":-32},{"i":12,"j":17,"z":-24},{"i":11,"j":17,"z":-15},{"i":10,"j":17,"z":-6},{"i":9,"j":17,"z":2},{"i":8,"j":17,"z":9},{"i":7,"j":17,"z":14},{"i":6,"j":17,"z":18},{"i":5,"j":17,"z":20},{"i":4,"j":17,"z":19},{"i":3,"j":17,"z":15},{"i":2,"j":17,"z":10},{"i":1,"j":17,"z":5},{"i":0,"j":17,"z":1},
{"i":20,"j":16,"z":-12},{"i":19,"j":16,"z":-24},{"i":18,"j":16,"z":-36},{"i":17,"j":16,"z":-46},{"i":16,"j":16,"z":-49},{"i":15,"j":16,"z":-49},{"i":14,"j":16,"z":-45},{"i":13,"j":16,"z":-37},{"i":12,"j":16,"z":-28},{"i":11,"j":16,"z":-18},{"i":10,"j":16,"z":-8},{"i":9,"j":16,"z":3},{"i":8,"j":16,"z":12},{"i":7,"j":16,"z":18},{"i":6,"j":16,"z":23},{"i":5,"j":16,"z":27},{"i":4,"j":16,"z":24},{"i":3,"j":16,"z":18},{"i":2,"j":16,"z":12},{"i":1,"j":16,"z":6},{"i":0,"j":16,"z":1},
{"i":20,"j":15,"z":-10},{"i":19,"j":15,"z":-22},{"i":18,"j":15,"z":-33},{"i":17,"j":15,"z":-41},{"i":16,"j":15,"z":-46},{"i":15,"j":15,"z":-47},{"i":14,"j":15,"z":-42},{"i":13,"j":15,"z":-36},{"i":12,"j":15,"z":-27},{"i":11,"j":15,"z":-17},{"i":10,"j":15,"z":-6},{"i":9,"j":15,"z":5},{"i":8,"j":15,"z":13},{"i":7,"j":15,"z":20},{"i":6,"j":15,"z":27},{"i":5,"j":15,"z":32},{"i":4,"j":15,"z":26},{"i":3,"j":15,"z":20},{"i":2,"j":15,"z":13},{"i":1,"j":15,"z":6},{"i":0,"j":15,"z":2},
{"i":20,"j":14,"z":-5},{"i":19,"j":14,"z":-14},{"i":18,"j":14,"z":-23},{"i":17,"j":14,"z":-30},{"i":16,"j":14,"z":-35},{"i":15,"j":14,"z":-38},{"i":14,"j":14,"z":-38},{"i":13,"j":14,"z":-33},{"i":12,"j":14,"z":-25},{"i":11,"j":14,"z":-15},{"i":10,"j":14,"z":-4},{"i":9,"j":14,"z":5},{"i":8,"j":14,"z":13},{"i":7,"j":14,"z":21},{"i":6,"j":14,"z":28},{"i":5,"j":14,"z":34},{"i":4,"j":14,"z":28},{"i":3,"j":14,"z":20},{"i":2,"j":14,"z":13},{"i":1,"j":14,"z":6},{"i":0,"j":14,"z":2},
{"i":20,"j":13,"z":2},{"i":19,"j":13,"z":-6},{"i":18,"j":13,"z":-14},{"i":17,"j":13,"z":-21},{"i":16,"j":13,"z":-27},{"i":15,"j":13,"z":-31},{"i":14,"j":13,"z":-32},{"i":13,"j":13,"z":-29},{"i":12,"j":13,"z":-22},{"i":11,"j":13,"z":-13},{"i":10,"j":13,"z":-3},{"i":9,"j":13,"z":5},{"i":8,"j":13,"z":13},{"i":7,"j":13,"z":21},{"i":6,"j":13,"z":28},{"i":5,"j":13,"z":35},{"i":4,"j":13,"z":28},{"i":3,"j":13,"z":20},{"i":2,"j":13,"z":13},{"i":1,"j":13,"z":6},{"i":0,"j":13,"z":2},
{"i":20,"j":12,"z":6},{"i":19,"j":12,"z":-1},{"i":18,"j":12,"z":-7},{"i":17,"j":12,"z":-14},{"i":16,"j":12,"z":-20},{"i":15,"j":12,"z":-25},{"i":14,"j":12,"z":-27},{"i":13,"j":12,"z":-26},{"i":12,"j":12,"z":-19},{"i":11,"j":12,"z":-11},{"i":10,"j":12,"z":-2},{"i":9,"j":12,"z":5},{"i":8,"j":12,"z":13},{"i":7,"j":12,"z":21},{"i":6,"j":12,"z":29},{"i":5,"j":12,"z":35},{"i":4,"j":12,"z":28},{"i":3,"j":12,"z":20},{"i":2,"j":12,"z":13},{"i":1,"j":12,"z":6},{"i":0,"j":12,"z":2},
{"i":20,"j":11,"z":9},{"i":19,"j":11,"z":3},{"i":18,"j":11,"z":-2},{"i":17,"j":11,"z":-8},{"i":16,"j":11,"z":-14},{"i":15,"j":11,"z":-19},{"i":14,"j":11,"z":-22},{"i":13,"j":11,"z":-22},{"i":12,"j":11,"z":-16},{"i":11,"j":11,"z":-8},{"i":10,"j":11,"z":-1},{"i":9,"j":11,"z":5},{"i":8,"j":11,"z":13},{"i":7,"j":11,"z":21},{"i":6,"j":11,"z":29},{"i":5,"j":11,"z":35},{"i":4,"j":11,"z":28},{"i":3,"j":11,"z":20},{"i":2,"j":11,"z":13},{"i":1,"j":11,"z":6},{"i":0,"j":11,"z":2},
{"i":20,"j":10,"z":13},{"i":19,"j":10,"z":5},{"i":18,"j":10,"z":1},{"i":17,"j":10,"z":-4},{"i":16,"j":10,"z":-9},{"i":15,"j":10,"z":-14},{"i":14,"j":10,"z":-17},{"i":13,"j":10,"z":-18},{"i":12,"j":10,"z":-12},{"i":11,"j":10,"z":-5},{"i":10,"j":10,"z":0},{"i":9,"j":10,"z":5},{"i":8,"j":10,"z":14},{"i":7,"j":10,"z":22},{"i":6,"j":10,"z":30},{"i":5,"j":10,"z":35},{"i":4,"j":10,"z":29},{"i":3,"j":10,"z":21},{"i":2,"j":10,"z":13},{"i":1,"j":10,"z":6},{"i":0,"j":10,"z":2},
{"i":20,"j":9,"z":15},{"i":19,"j":9,"z":7},{"i":18,"j":9,"z":1},{"i":17,"j":9,"z":-2},{"i":16,"j":9,"z":-6},{"i":15,"j":9,"z":-10},{"i":14,"j":9,"z":-13},{"i":13,"j":9,"z":-14},{"i":12,"j":9,"z":-9},{"i":11,"j":9,"z":-3},{"i":10,"j":9,"z":0},{"i":9,"j":9,"z":6},{"i":8,"j":9,"z":15},{"i":7,"j":9,"z":23},{"i":6,"j":9,"z":31},{"i":5,"j":9,"z":36},{"i":4,"j":9,"z":30},{"i":3,"j":9,"z":22},{"i":2,"j":9,"z":14},{"i":1,"j":9,"z":6},{"i":0,"j":9,"z":2},
{"i":20,"j":8,"z":17},{"i":19,"j":8,"z":9},{"i":18,"j":8,"z":3},{"i":17,"j":8,"z":0},{"i":16,"j":8,"z":-3},{"i":15,"j":8,"z":-7},{"i":14,"j":8,"z":-9},{"i":13,"j":8,"z":-10},{"i":12,"j":8,"z":-6},{"i":11,"j":8,"z":-2},{"i":10,"j":8,"z":1},{"i":9,"j":8,"z":7},{"i":8,"j":8,"z":16},{"i":7,"j":8,"z":25},{"i":6,"j":8,"z":33},{"i":5,"j":8,"z":38},{"i":4,"j":8,"z":31},{"i":3,"j":8,"z":23},{"i":2,"j":8,"z":14},{"i":1,"j":8,"z":6},{"i":0,"j":8,"z":2},
{"i":20,"j":7,"z":18},{"i":19,"j":7,"z":10},{"i":18,"j":7,"z":4},{"i":17,"j":7,"z":2},{"i":16,"j":7,"z":0},{"i":15,"j":7,"z":-3},{"i":14,"j":7,"z":-6},{"i":13,"j":7,"z":-6},{"i":12,"j":7,"z":-3},{"i":11,"j":7,"z":0},{"i":10,"j":7,"z":2},{"i":9,"j":7,"z":9},{"i":8,"j":7,"z":18},{"i":7,"j":7,"z":27},{"i":6,"j":7,"z":36},{"i":5,"j":7,"z":40},{"i":4,"j":7,"z":33},{"i":3,"j":7,"z":24},{"i":2,"j":7,"z":15},{"i":1,"j":7,"z":7},{"i":0,"j":7,"z":2},
{"i":20,"j":6,"z":19},{"i":19,"j":6,"z":12},{"i":18,"j":6,"z":8},{"i":17,"j":6,"z":4},{"i":16,"j":6,"z":2},{"i":15,"j":6,"z":0},{"i":14,"j":6,"z":-3},{"i":13,"j":6,"z":-3},{"i":12,"j":6,"z":-1},{"i":11,"j":6,"z":1},{"i":10,"j":6,"z":6},{"i":9,"j":6,"z":12},{"i":8,"j":6,"z":20},{"i":7,"j":6,"z":29},{"i":6,"j":6,"z":38},{"i":5,"j":6,"z":43},{"i":4,"j":6,"z":36},{"i":3,"j":6,"z":26},{"i":2,"j":6,"z":16},{"i":1,"j":6,"z":7},{"i":0,"j":6,"z":2},
{"i":20,"j":5,"z":19},{"i":19,"j":5,"z":13},{"i":18,"j":5,"z":9},{"i":17,"j":5,"z":5},{"i":16,"j":5,"z":3},{"i":15,"j":5,"z":1},{"i":14,"j":5,"z":-1},{"i":13,"j":5,"z":-1},{"i":12,"j":5,"z":0},{"i":11,"j":5,"z":4},{"i":10,"j":5,"z":9},{"i":9,"j":5,"z":14},{"i":8,"j":5,"z":22},{"i":7,"j":5,"z":30},{"i":6,"j":5,"z":39},{"i":5,"j":5,"z":44},{"i":4,"j":5,"z":36},{"i":3,"j":5,"z":26},{"i":2,"j":5,"z":16},{"i":1,"j":5,"z":7},{"i":0,"j":5,"z":1},
{"i":20,"j":4,"z":17},{"i":19,"j":4,"z":12},{"i":18,"j":4,"z":9},{"i":17,"j":4,"z":6},{"i":16,"j":4,"z":4},{"i":15,"j":4,"z":1},{"i":14,"j":4,"z":0},{"i":13,"j":4,"z":-1},{"i":12,"j":4,"z":1},{"i":11,"j":4,"z":5},{"i":10,"j":4,"z":8},{"i":9,"j":4,"z":14},{"i":8,"j":4,"z":21},{"i":7,"j":4,"z":28},{"i":6,"j":4,"z":36},{"i":5,"j":4,"z":40},{"i":4,"j":4,"z":32},{"i":3,"j":4,"z":23},{"i":2,"j":4,"z":14},{"i":1,"j":4,"z":6},{"i":0,"j":4,"z":1},
{"i":20,"j":3,"z":13},{"i":19,"j":3,"z":10},{"i":18,"j":3,"z":8},{"i":17,"j":3,"z":5},{"i":16,"j":3,"z":3},{"i":15,"j":3,"z":1},{"i":14,"j":3,"z":0},{"i":13,"j":3,"z":0},{"i":12,"j":3,"z":1},{"i":11,"j":3,"z":4},{"i":10,"j":3,"z":7},{"i":9,"j":3,"z":12},{"i":8,"j":3,"z":17},{"i":7,"j":3,"z":24},{"i":6,"j":3,"z":29},{"i":5,"j":3,"z":32},{"i":4,"j":3,"z":26},{"i":3,"j":3,"z":18},{"i":2,"j":3,"z":11},{"i":1,"j":3,"z":6},{"i":0,"j":3,"z":1},
{"i":20,"j":2,"z":8},{"i":19,"j":2,"z":6},{"i":18,"j":2,"z":5},{"i":17,"j":2,"z":3},{"i":16,"j":2,"z":2},{"i":15,"j":2,"z":0},{"i":14,"j":2,"z":0},{"i":13,"j":2,"z":0},{"i":12,"j":2,"z":1},{"i":11,"j":2,"z":3},{"i":10,"j":2,"z":5},{"i":9,"j":2,"z":8},{"i":8,"j":2,"z":12},{"i":7,"j":2,"z":16},{"i":6,"j":2,"z":19},{"i":5,"j":2,"z":21},{"i":4,"j":2,"z":17},{"i":3,"j":2,"z":12},{"i":2,"j":2,"z":7},{"i":1,"j":2,"z":3},{"i":0,"j":2,"z":1},
{"i":20,"j":1,"z":3},{"i":19,"j":1,"z":2},{"i":18,"j":1,"z":2},{"i":17,"j":1,"z":1},{"i":16,"j":1,"z":0},{"i":15,"j":1,"z":0},{"i":14,"j":1,"z":0},{"i":13,"j":1,"z":0},{"i":12,"j":1,"z":1},{"i":11,"j":1,"z":2},{"i":10,"j":1,"z":3},{"i":9,"j":1,"z":4},{"i":8,"j":1,"z":6},{"i":7,"j":1,"z":7},{"i":6,"j":1,"z":8},{"i":5,"j":1,"z":8},{"i":4,"j":1,"z":7},{"i":3,"j":1,"z":5},{"i":2,"j":1,"z":3},{"i":1,"j":1,"z":2},{"i":0,"j":1,"z":0.5},
{"i":20,"j":0,"z":0},{"i":19,"j":0,"z":0},{"i":18,"j":0,"z":0},{"i":17,"j":0,"z":0},{"i":16,"j":0,"z":0},{"i":15,"j":0,"z":-1},{"i":14,"j":0,"z":-1},{"i":13,"j":0,"z":-1},{"i":12,"j":0,"z":0},{"i":11,"j":0,"z":0},{"i":10,"j":0,"z":1},{"i":9,"j":0,"z":1},{"i":8,"j":0,"z":1},{"i":7,"j":0,"z":1},{"i":6,"j":0,"z":1},{"i":5,"j":0,"z":1},{"i":4,"j":0,"z":1},{"i":3,"j":0,"z":1},{"i":2,"j":0,"z":0},{"i":1,"j":0,"z":0},{"i":0,"j":0,"z":0}
]
}}
